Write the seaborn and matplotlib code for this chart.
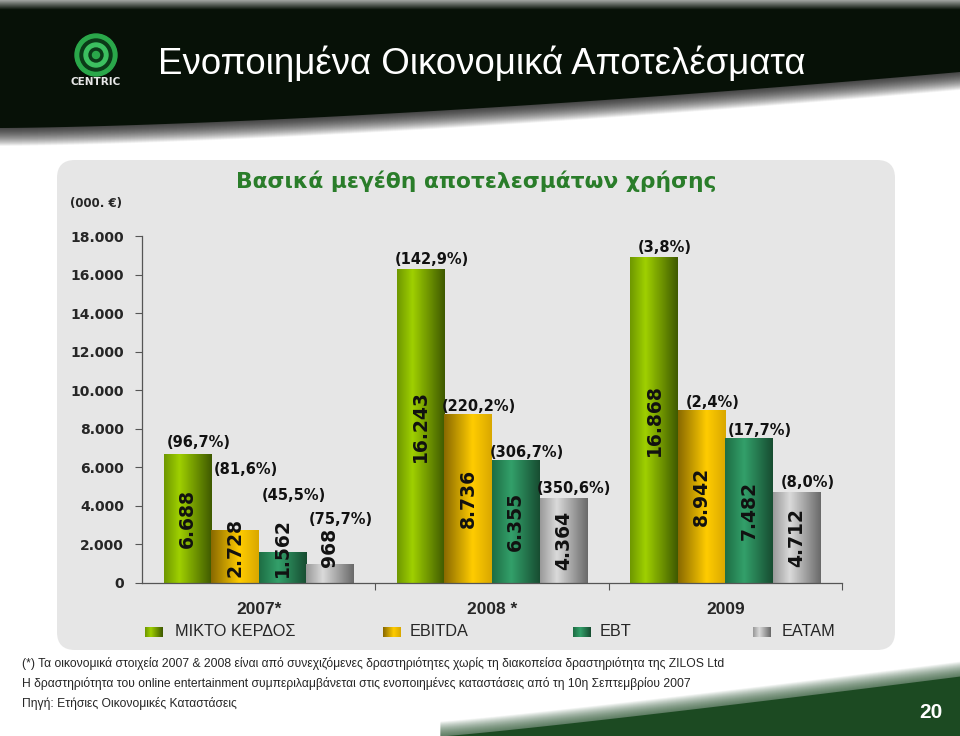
import numpy as np
import pandas as pd
import matplotlib
matplotlib.use('Agg')
import matplotlib.pyplot as plt
import seaborn as sns
from matplotlib import font_manager
from matplotlib.colors import LinearSegmentedColormap
from matplotlib.patches import Rectangle, FancyBboxPatch, Polygon, Circle
from matplotlib.ticker import FuncFormatter, FixedLocator

# ---------------- data ----------------
years = ['2007*', '2008 *', '2009']
metrics = ['ΜΙΚΤΟ ΚΕΡΔΟΣ', 'EBITDA', 'EBT', 'EATAM']
gross_profit = [6688, 16243, 16868]
ebitda = [2728, 8736, 8942]
ebt = [1562, 6355, 7482]
eatam = [968, 4364, 4712]
gross_growth = ['(96,7%)', '(142,9%)', '(3,8%)']
ebitda_growth = ['(81,6%)', '(220,2%)', '(2,4%)']
ebt_growth = ['(45,5%)', '(306,7%)', '(17,7%)']
eatam_growth = ['(75,7%)', '(350,6%)', '(8,0%)']
yticks = list(range(0, 18001, 2000))

title = 'Ενοποιημένα Οικονομικά Αποτελέσματα'
subtitle = 'Βασικά μεγέθη αποτελεσμάτων χρήσης'
unit_label = '(000. €)'
footnotes = [
    '(*) Τα οικονομικά στοιχεία 2007 & 2008 είναι από συνεχιζόμενες δραστηριότητες χωρίς τη διακοπείσα δραστηριότητα της ZILOS Ltd',
    'Η δραστηριότητα του online entertainment συμπεριλαμβάνεται στις ενοποιημένες καταστάσεις από τη 10η Σεπτεμβρίου 2007',
    'Πηγή: Ετήσιες Οικονομικές Καταστάσεις',
]
page_number = '20'

values = [gross_profit, ebitda, ebt, eatam]
growths = [gross_growth, ebitda_growth, ebt_growth, eatam_growth]
rows = []
for m, vals in zip(metrics, values):
    for y, v in zip(years, vals):
        rows.append({'year': y, 'metric': m, 'value': v})
df = pd.DataFrame(rows)

# ---------------- style ----------------
sns.set_style('white')
names = {f.name for f in font_manager.fontManager.ttflist}
NARROW = 'Liberation Sans Narrow' if 'Liberation Sans Narrow' in names else 'Liberation Sans'
plt.rcParams['font.family'] = ['DejaVu Sans']

base_colors = ['#9ccc00', '#ffcc00', '#2e9a62', '#d0d0d0']
grad_stops = [
    ['#6f9800', '#9fd000', '#3f5a00'],
    ['#8a6a00', '#ffcc00', '#d9a800'],
    ['#1e6e44', '#33a06a', '#174d31'],
    ['#9a9a9a', '#dadada', '#6a6a6a'],
]
grad_pos = [0.32, 0.6, 0.4, 0.35]
cmaps = [LinearSegmentedColormap.from_list('g%d' % i, [(0, s[0]), (p, s[1]), (1, s[2])])
         for i, (s, p) in enumerate(zip(grad_stops, grad_pos))]

W, H = 960, 736
fig = plt.figure(figsize=(W / 100, H / 100), dpi=100)
fig.patch.set_facecolor('white')

# background / decoration axes in pixel coordinates
bg = fig.add_axes([0, 0, 1, 1], zorder=-1)
bg.set_xlim(0, W)
bg.set_ylim(H, 0)
bg.axis('off')

# header band with soft shadow
xs = np.linspace(0, W, 120)
curve = 128 - 56 * (xs / W) ** 1.5
for k in range(36, 0, -1):
    bg.fill_between(xs, 0, curve + k * 0.5, color='black', alpha=0.03, lw=0)
bg.fill_between(xs, 0, curve, color='#071107', lw=0)
top = np.linspace(0, 1, 20)[:, None]
bg.imshow(top, cmap=LinearSegmentedColormap.from_list('t', ['#a0a4a0', '#071107']),
          extent=[0, W, 10, 0], aspect='auto', zorder=3)

# logo
for r, c in [(21, '#2aa84a'), (16, '#0b3a18'), (12, '#3cc060'), (7, '#0b3a18'), (3.5, '#2aa84a')]:
    bg.add_patch(Circle((96, 55), r, color=c, zorder=4))
bg.text(96, 82, 'CENTRIC', color='#e8e8e8', fontsize=7.5, fontweight='bold',
        ha='center', va='center', zorder=4)
t_title = bg.text(158, 64, title, color='white', fontsize=26, family=[NARROW, 'DejaVu Sans'],
                  ha='left', va='center', zorder=4)

# panel
bg.add_patch(FancyBboxPatch((57, 160), 838, 490, boxstyle='round,pad=0,rounding_size=18',
                            facecolor='#e6e6e6', edgecolor='none'))
t_sub = bg.text(476, 181, subtitle, color='#2a7d2a', fontsize=15, fontweight='bold',
                ha='center', va='center')
bg.text(70, 204, unit_label, fontsize=8.5, fontweight='bold', ha='left', va='center')

# footer swoosh with soft fringe
fx = np.linspace(440, W, 120)
fcurve = 736 - 60 * ((fx - 440) / 520) ** 1.1
for k in range(30, 0, -1):
    bg.fill_between(fx, fcurve - k * 0.5, H, color='#1c4a22', alpha=0.035, lw=0)
bg.fill_between(fx, fcurve, H, color='#1c4a22', lw=0)
bg.text(931, 712, page_number, color='white', fontsize=15, fontweight='bold',
        family=[NARROW, 'DejaVu Sans'], ha='center', va='center')

# footnotes
fn_texts = []
for yv, s in zip([663, 684, 703], footnotes):
    fn_texts.append(bg.text(22, yv, s, fontsize=8.5, family=[NARROW, 'DejaVu Sans'],
                            ha='left', va='center'))

# legend (manual)
leg_marker_x = [145, 383, 573, 753]
leg_text_x = [175, 410, 600, 782]
leg_texts = []
for i, m in enumerate(metrics):
    g = np.linspace(0, 1, 32)[None, :]
    bg.imshow(g, cmap=cmaps[i], extent=[leg_marker_x[i], leg_marker_x[i] + 18, 637, 627],
              aspect='auto', zorder=3)
    leg_texts.append(bg.text(leg_text_x[i], 632, m, fontsize=11.5, family=[NARROW, 'DejaVu Sans'],
                             ha='left', va='center'))
bg.set_xlim(0, W)
bg.set_ylim(H, 0)

# ---------------- main chart ----------------
ax = fig.add_axes([142 / W, 1 - 583 / H, 700 / W, 347 / H])
ax.set_facecolor('none')
sns.barplot(data=df, x='year', y='value', hue='metric', order=years, hue_order=metrics,
            palette=base_colors, width=0.815, saturation=1, legend=False, ax=ax,
            errorbar=None, linewidth=0)

pct_lift_px = [[12, 10, 10], [61, 8, 8], [57, 8, 8], [45, 10, 10]]
for h, cont in enumerate(ax.containers):
    for i, bar in enumerate(cont):
        x0, w, hgt = bar.get_x(), bar.get_width(), bar.get_height()
        g = np.linspace(0, 1, 64)[None, :]
        ax.imshow(g, cmap=cmaps[h], extent=[x0, x0 + w, 0, hgt], aspect='auto',
                  zorder=bar.get_zorder() + 0.1, interpolation='bilinear')
        cx = x0 + w / 2
        ax.text(cx, max(hgt / 2, 1850), f'{int(hgt):,}'.replace(',', '.'), rotation=90,
                ha='center', va='center', fontsize=13.5, fontweight='bold', color='#111111',
                zorder=5)
        ax.annotate(growths[h][i], (cx, hgt), xytext=(11, pct_lift_px[h][i]),
                    textcoords='offset pixels', ha='center', va='center',
                    fontsize=10.5, fontweight='bold', color='#111111', zorder=5)

ax.set_xlim(-0.5, 2.5)
ax.set_ylim(0, 18000)
ax.set_yticks(yticks)
ax.yaxis.set_major_formatter(FuncFormatter(lambda v, p: f'{int(v):,}'.replace(',', '.')))
ax.set_xticks(range(len(years)))
ax.set_xticklabels(years, family=[NARROW, 'DejaVu Sans'], fontweight='bold', fontsize=12.5)
ax.xaxis.set_minor_locator(FixedLocator([0.5, 1.5, 2.5]))
ax.tick_params(axis='x', which='major', length=0, pad=14)
ax.tick_params(axis='x', which='minor', length=5, width=0.8, color='#555555', direction='out', bottom=True)
ax.tick_params(axis='y', length=5, width=0.8, color='#555555', direction='out', pad=8, left=True)
for lab in ax.get_yticklabels():
    lab.set_fontweight('bold')
    lab.set_fontsize(10)
for s in ['top', 'right']:
    ax.spines[s].set_visible(False)
for s in ['left', 'bottom']:
    ax.spines[s].set_color('#555555')
    ax.spines[s].set_linewidth(0.9)
ax.set_xlabel('')
ax.set_ylabel('')

# fit text widths to reference
fig.canvas.draw()
r = fig.canvas.get_renderer()
def fit(t, width_px):
    bb = t.get_window_extent(renderer=r)
    t.set_fontsize(t.get_fontsize() * width_px / bb.width)
fit(t_title, 647)
fit(t_sub, 483)
fit(fn_texts[0], 703)
fs = fn_texts[0].get_fontsize()
for t in fn_texts[1:]:
    t.set_fontsize(fs)
fit(leg_texts[0], 120)
lf = leg_texts[0].get_fontsize()
for t in leg_texts[1:]:
    t.set_fontsize(lf)

fig.savefig('out.png', dpi=100)
